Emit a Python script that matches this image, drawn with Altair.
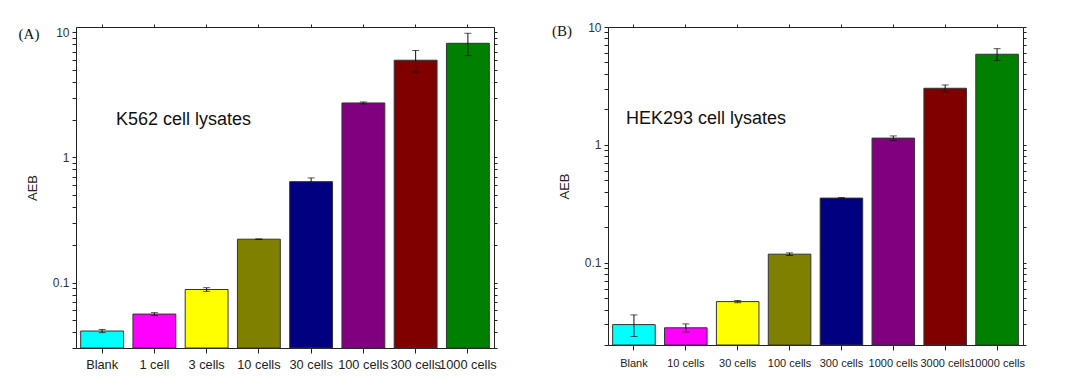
import altair as alt
import pandas as pd

left_cats = ["Blank", "1 cell", "3 cells", "10 cells", "30 cells", "100 cells", "300 cells", "1000 cells"]
left_vals = [0.041, 0.056, 0.088, 0.222, 0.64, 2.72, 5.97, 8.15]
left_err = [0.0012, 0.0015, 0.003, 0.001, 0.045, 0.05, 1.17, 1.65]

right_cats = ["Blank", "10 cells", "30 cells", "100 cells", "300 cells", "1000 cells", "3000 cells", "10000 cells"]
right_vals = [0.0298, 0.0280, 0.0467, 0.118, 0.353, 1.14, 3.02, 5.87]
right_err = [0.0062, 0.0022, 0.0010, 0.003, 0.004, 0.05, 0.2, 0.68]

bar_colors = ["#00FFFF", "#FF00FF", "#FFFF00", "#808000", "#000080", "#800080", "#800000", "#008000"]

left_ticks = [0.03, 0.04, 0.05, 0.06, 0.07, 0.08, 0.09, 0.1, 0.2, 0.3, 0.4, 0.5, 0.6, 0.7, 0.8, 0.9,
              1, 2, 3, 4, 5, 6, 7, 8, 9, 10]
right_ticks = [0.02] + left_ticks

FONT = "Liberation Sans"


def panel(cats, vals, errs, domain, ticks, label, note, w, h, note_x, note_y, lab_x, lab_y, xfs, lp):
    df = pd.DataFrame({
        "cat": cats,
        "idx": list(range(len(cats))),
        "val": vals,
        "lo": [v - e for v, e in zip(vals, errs)],
        "hi": [v + e for v, e in zip(vals, errs)],
        "base": [domain[0]] * len(cats),
    })
    xs = alt.Scale(domain=cats, paddingInner=0.18, paddingOuter=0.09)
    ys = alt.Scale(type="log", domain=domain, nice=False)
    yaxis = alt.Axis(values=ticks, title="AEB", titleFont=FONT, titleFontSize=13,
                     titleFontWeight="normal", titleColor="#222", titlePadding=13,
                     labelExpr="(datum.value==0.1||datum.value==1||datum.value==10)?datum.label:''",
                     format="~g", labelFont=FONT, labelFontSize=12, labelColor="#333",
                     tickSize=4, tickColor="#222", domainColor="#222", grid=False, labelPadding=3)
    xaxis = alt.Axis(title=None, labelAngle=0, labelFont=FONT, labelFontSize=xfs, labelColor="#222",
                     tickSize=5, tickColor="#222", domainColor="#222", labelPadding=lp, grid=False)
    bars = alt.Chart(df).mark_bar(stroke="#333", strokeWidth=1).encode(
        x=alt.X("cat:N", scale=xs, axis=xaxis, sort=cats),
        y=alt.Y("val:Q", scale=ys, axis=yaxis),
        y2=alt.Y2("base:Q"),
        color=alt.Color("idx:O", scale=alt.Scale(domain=list(range(8)), range=bar_colors), legend=None),
    )
    rules = alt.Chart(df).mark_rule(color="#111", strokeWidth=1).encode(
        x=alt.X("cat:N", scale=xs, sort=cats,
                axis=alt.Axis(orient="top", labels=False, title=None, tickSize=3, tickColor="#222",
                              domainColor="#222", grid=False)),
        y=alt.Y("lo:Q", scale=ys,
                axis=alt.Axis(orient="right", values=ticks, labels=False, title=None, tickSize=3,
                              tickColor="#222", domainColor="#222", grid=False)),
        y2="hi:Q",
    )
    caps_lo = alt.Chart(df).mark_tick(color="#111", size=7, thickness=1, orient="horizontal").encode(
        x=alt.X("cat:N", scale=xs, sort=cats, axis=None), y=alt.Y("lo:Q", scale=ys, axis=None))
    caps_hi = alt.Chart(df).mark_tick(color="#111", size=7, thickness=1, orient="horizontal").encode(
        x=alt.X("cat:N", scale=xs, sort=cats, axis=None), y=alt.Y("hi:Q", scale=ys, axis=None))
    note_df = pd.DataFrame({"t": [note]})
    note_txt = alt.Chart(note_df).mark_text(font=FONT, fontSize=18, align="left", baseline="middle",
                                           color="#111").encode(
        text="t:N", x=alt.value(note_x), y=alt.value(note_y))
    lab_df = pd.DataFrame({"t": [label]})
    lab_txt = alt.Chart(lab_df).mark_text(font="Liberation Serif", fontSize=15, align="center",
                                          baseline="middle", color="#111").encode(
        text="t:N", x=alt.value(lab_x), y=alt.value(lab_y))
    return alt.layer(bars, rules, caps_lo, caps_hi, note_txt, lab_txt).resolve_axis(
        x="independent", y="independent").properties(width=w, height=h)


left = panel(left_cats, left_vals, left_err, [0.03, 11], left_ticks, "(A)", "K562 cell lysates",
             418, 321, 40, 93, -47, 7, 12.8, 5)
right = panel(right_cats, right_vals, right_err, [0.02, 10], right_ticks, "(B)", "HEK293 cell lysates",
              415, 318, 18, 92, -46, 4, 11, 7)

chart = alt.hconcat(left, right, spacing=53).properties(
    padding={"left": 10, "top": 12, "right": 5, "bottom": 5}
).configure_view(stroke="#222", strokeWidth=1).configure(background="white")

chart.save("out.html", embed_options={"renderer": "svg", "actions": False})
